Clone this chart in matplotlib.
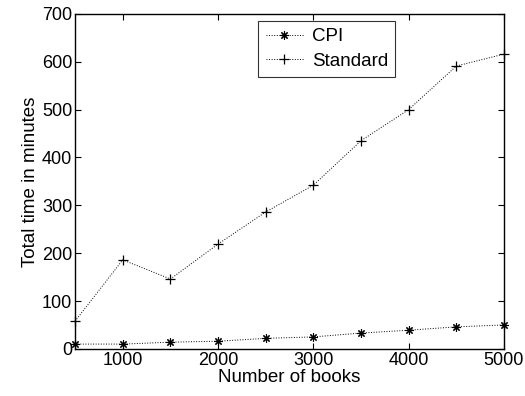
import numpy as np
import matplotlib
matplotlib.use("Agg")
import matplotlib.pyplot as plt

plt.rcParams['font.family'] = ['Liberation Sans', 'DejaVu Sans']

books = [500, 1000, 1500, 2000, 2500, 3000, 3500, 4000, 4500, 5000]
cpi = [10, 10, 14, 16, 22, 25, 33, 39, 46, 50]
standard = [58, 186, 146, 219, 286, 342, 435, 500, 591, 616]

fig = plt.figure(figsize=(5.25, 3.96), dpi=100)
ax = fig.add_axes([0.143, 0.119, 0.817, 0.846])

ax.plot(books, cpi, linestyle=':', color='k', linewidth=0.7, marker=(8, 2, 0),
        markersize=6, markeredgewidth=0.8, label='CPI', clip_on=False)
ax.plot(books, standard, linestyle=':', color='k', linewidth=0.7, marker='+',
        markersize=7, markeredgewidth=0.9, label='Standard', clip_on=False)

ax.set_xlim(500, 5000)
ax.set_ylim(0, 700)
ax.set_xticks([1000, 2000, 3000, 4000, 5000])
ax.set_yticks(range(0, 701, 100))
ax.tick_params(direction='in', top=True, right=True, labelsize=13, length=4,
               width=0.8, pad=2)
for s in ax.spines.values():
    s.set_linewidth(1.0)

ax.set_xlabel('Number of books', fontsize=13.5, labelpad=0)
ax.set_ylabel('Total time in minutes', fontsize=13.5, labelpad=2)

leg = ax.legend(loc='upper left', bbox_to_anchor=(0.427, 0.98), fontsize=13.5,
                frameon=True, fancybox=False, edgecolor='k', handlelength=2.0,
                borderpad=0.4, labelspacing=0.4, handletextpad=0.45,
                borderaxespad=0)
leg.get_frame().set_linewidth(0.8)

fig.savefig('out.png', dpi=100)
